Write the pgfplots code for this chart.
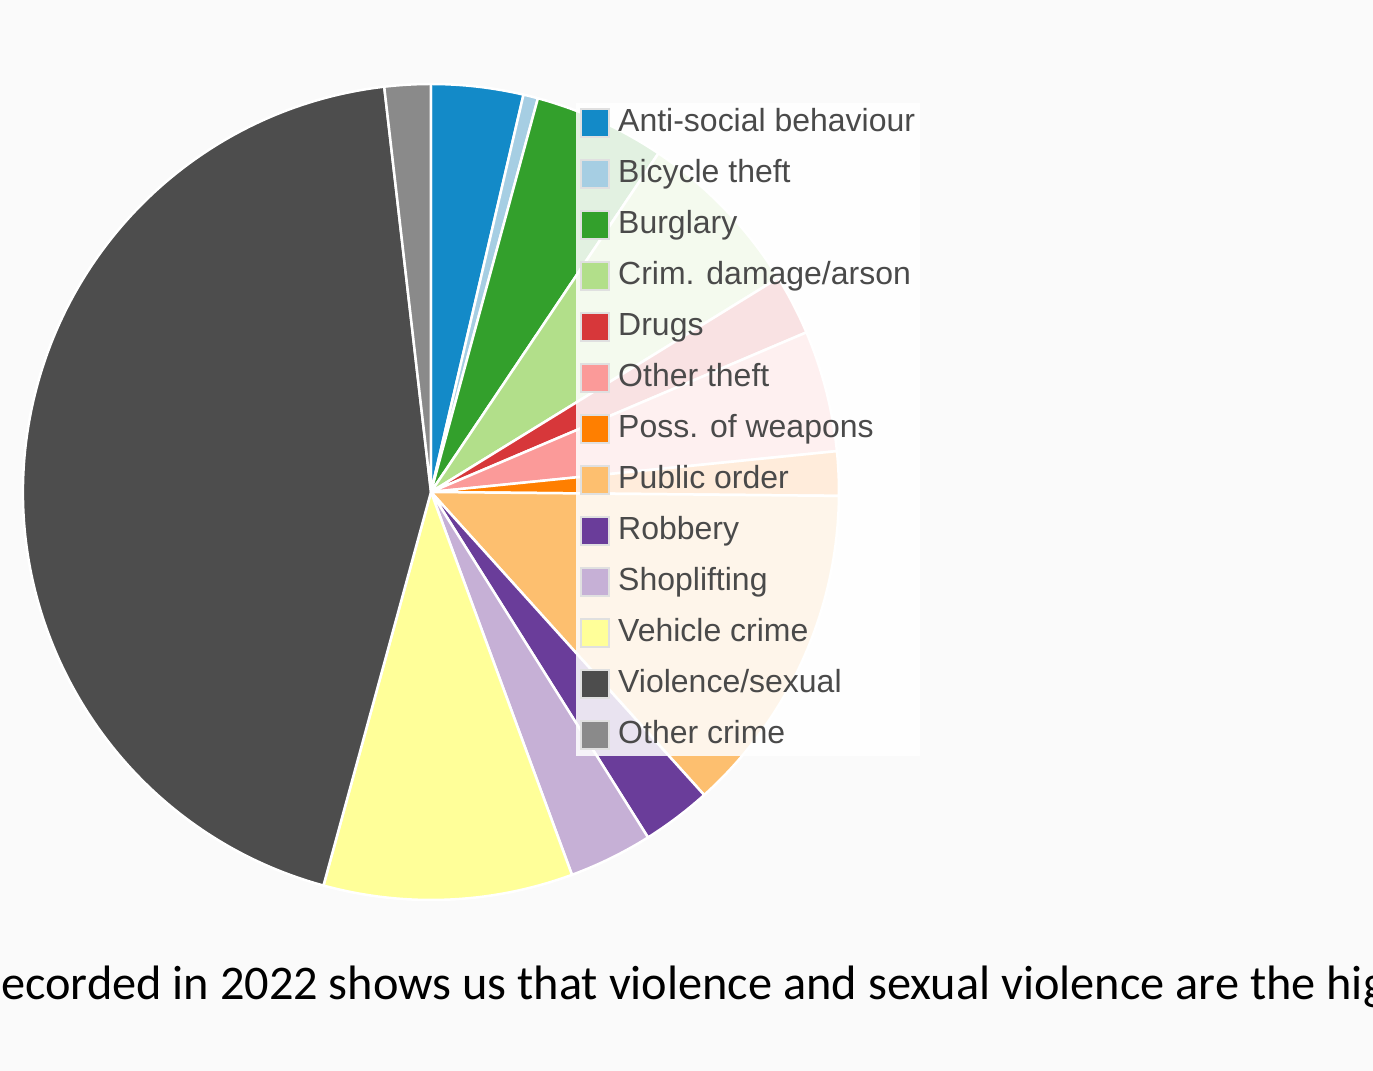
\documentclass[border=0pt]{standalone}
\usepackage{pgfplots}
\pgfplotsset{compat=1.18}
\usepackage{pgfplotstable}
\usepackage{fontspec}
\setmainfont{Liberation Sans}
\newfontfamily\calibri{Carlito}

\definecolor{bgc}{HTML}{FAFAFA}
\definecolor{txtgray}{HTML}{4A4A4A}
\definecolor{cA}{HTML}{138AC8}
\definecolor{cB}{HTML}{A6CEE3}
\definecolor{cC}{HTML}{33A02C}
\definecolor{cD}{HTML}{B2DF8A}
\definecolor{cE}{HTML}{D7373A}
\definecolor{cF}{HTML}{FB9A99}
\definecolor{cG}{HTML}{FF7F00}
\definecolor{cH}{HTML}{FDBF6F}
\definecolor{cI}{HTML}{6A3D9A}
\definecolor{cJ}{HTML}{C6B0D6}
\definecolor{cK}{HTML}{FFFF99}
\definecolor{cL}{HTML}{4D4D4D}
\definecolor{cM}{HTML}{8A8A8A}

\pgfplotstableread[col sep=comma]{
name,value,colour
Anti-social behaviour,3.64,cA
Bicycle theft,0.58,cB
Burglary,5.19,cC
Crim. damage/arson,6.80,cD
Drugs,2.39,cE
Other theft,4.80,cF
Poss. of weapons,1.75,cG
Public order,13.17,cH
Robbery,2.75,cI
Shoplifting,3.31,cJ
Vehicle crime,9.86,cK
Violence/sexual,43.92,cL
Other crime,1.83,cM
}\crimes

\gdef\pietotal{0}%
\foreach \i in {0,...,12}{%
  \pgfplotstablegetelem{\i}{value}\of\crimes%
  \pgfmathsetmacro\tmp{\pietotal+\pgfplotsretval}%
  \xdef\pietotal{\tmp}%
}%
\gdef\piecum{0}%
\foreach \i in {0,...,12}{%
  \pgfplotstablegetelem{\i}{value}\of\crimes%
  \pgfmathsetmacro\tmpE{\piecum+\pgfplotsretval}%
  \pgfmathsetmacro\fracA{\piecum/\pietotal}%
  \pgfmathsetmacro\fracB{\tmpE/\pietotal}%
  \pgfmathsetmacro\tmpA{90-360*\fracA}%
  \pgfmathsetmacro\tmpB{90-360*\fracB}%
  \expandafter\xdef\csname pieA\i\endcsname{\tmpA}%
  \expandafter\xdef\csname pieB\i\endcsname{\tmpB}%
  \pgfplotstablegetelem{\i}{colour}\of\crimes%
  \expandafter\xdef\csname pieC\i\endcsname{\pgfplotsretval}%
  \pgfplotstablegetelem{\i}{name}\of\crimes%
  \expandafter\xdef\csname pieN\i\endcsname{\pgfplotsretval}%
  \xdef\piecum{\tmpE}%
}%

\begin{document}%
\begin{tikzpicture}
\fill[bgc] (0,0) rectangle (137.3mm,107.1mm);
\begin{axis}[
  at={(43.1mm,57.9mm)}, anchor=origin,
  x=40.8mm, y=40.8mm,
  xmin=-1, xmax=1, ymin=-1, ymax=1,
  hide axis, clip=false,
  legend cell align=left,
  legend style={
    at={(axis description cs:0.6765,0.9780)}, anchor=north west,
    draw=none, fill=white, fill opacity=0.86, text opacity=1,
    font=\fontsize{9.1pt}{11pt}\selectfont, text=txtgray,
    inner xsep=0.45mm, inner ysep=0.4mm,
    row sep=1.80mm,
    nodes={inner sep=0pt, text height=2.5mm, text depth=0.8mm},
    /tikz/every odd column/.append style={column sep=0.85mm},
  },
  legend image code/.code={\draw[#1, draw=black!12, line width=0.2mm, fill opacity=1, draw opacity=1] (0mm,-1.4mm) rectangle (2.75mm,1.4mm);},
]
\pgfplotsinvokeforeach{0,...,12}{
  \fill[fill=\csname pieC#1\endcsname, draw=white, line width=0.25mm, line join=round]
    (axis cs:0,0) -- (axis cs:{cos(\csname pieA#1\endcsname)},{sin(\csname pieA#1\endcsname)})
    arc[start angle=\csname pieA#1\endcsname, end angle=\csname pieB#1\endcsname, radius=40.8mm] -- cycle;
}
\pgfplotsinvokeforeach{0,...,12}{
  \edef\tmpimg{\noexpand\addlegendimage{fill=\csname pieC#1\endcsname}}\tmpimg
  \edef\tmpent{\noexpand\addlegendentry{\csname pieN#1\endcsname}}\tmpent
}
\end{axis}
\begin{scope}
\clip (0,0) rectangle (137.3mm,107.1mm);
\node[anchor=base west, inner sep=0, font=\calibri\fontsize{13.75pt}{16pt}\selectfont, text=black]
  at (0.05mm,7.1mm) {ecorded in 2022 shows us that violence and sexual violence are the highest};
\end{scope}
\pgfresetboundingbox
\path[use as bounding box] (0,0) rectangle (137.3mm,107.1mm);
\end{tikzpicture}%
\end{document}
